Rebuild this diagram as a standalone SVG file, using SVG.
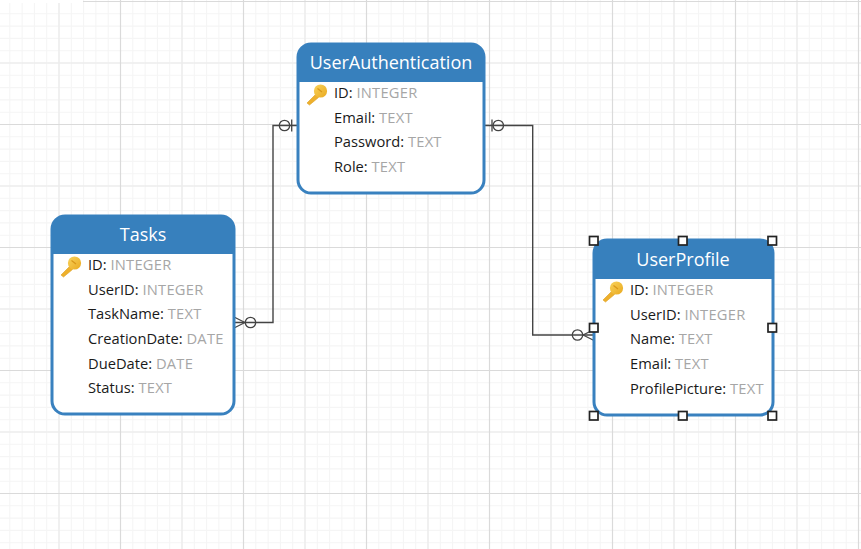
<svg xmlns="http://www.w3.org/2000/svg" width="861" height="549" viewBox="0 0 861 549">
<style>
.box{fill:#fff;stroke:#3981bf;stroke-width:3}
.hdr{fill:#3780bd}
.title{font-family:"Open Sans","Noto Sans",sans-serif;font-size:18px;fill:#fff}
.row{font-family:"Open Sans","Noto Sans",sans-serif;font-size:14.7px;fill:#1a1a1a}
.row tspan{fill:#a6a6a6;letter-spacing:.25px}
.conn{fill:none;stroke:#444;stroke-width:1.4}
.sym{fill:none;stroke:#444;stroke-width:1.3}
.h{fill:#fff;stroke:#222;stroke-width:1.7}
</style>
<defs>
<pattern id="grid" patternUnits="userSpaceOnUse" x="0" y="0" width="123" height="123">
<path stroke="#f5f5f5" stroke-width="1.1" fill="none" d="M9.8 0V123M22.1 0V123M34.4 0V123M46.7 0V123M71.3 0V123M83.6 0V123M95.9 0V123M108.2 0V123M0 13.8H123M0 26.1H123M0 38.4H123M0 50.7H123M0 75.3H123M0 87.6H123M0 99.9H123M0 112.2H123"/>
<path stroke="#ededed" stroke-width="1.6" fill="none" d="M59 0V123M0 63H123"/>
<path stroke="#dadada" stroke-width="1.2" fill="none" d="M120.5 0V123M0 1.5H123"/>
</pattern>
<linearGradient id="keyg" x1="0" y1="0" x2="1" y2="1"><stop offset="0" stop-color="#f9d35c"/><stop offset="1" stop-color="#e9a91f"/></linearGradient>
<g id="key">
<path d="M-10 9L-1.5 0.5L1.5 3.5L-7.5 11Z" fill="#eeb02c" stroke="#dba022" stroke-width="0.6"/>
<circle cx="3.5" cy="-3" r="6.6" fill="url(#keyg)"/>
<path d="M0.5 -5.5L5 -2" stroke="#d9981a" stroke-width="1.3" fill="none"/>
</g>
</defs>
<rect width="861" height="549" fill="#fff"/>
<rect width="861" height="549" fill="url(#grid)"/>
<rect x="0" y="0" width="83" height="3" fill="#fff"/>
<g id="connectors">
<path class="conn" d="M234 322.5H273V125.5H298"/>
<path class="sym" d="M245 322.5L234 317M245 322.5L234 328"/>
<circle class="sym" cx="250.5" cy="322.5" r="5.2"/>
<circle class="sym" cx="284.5" cy="125.5" r="5.2"/>
<path class="sym" d="M291.7 119.5V131.5"/>
<path class="conn" d="M484 125.5H532.7V335H594"/>
<path class="sym" d="M492 119.5V131.5"/>
<circle class="sym" cx="498.3" cy="125.5" r="5.2"/>
<circle class="sym" cx="577.5" cy="335" r="5.2"/>
<path class="sym" d="M583 335L594 329.5M583 335L594 340.5"/>
</g>
<g id="UserAuthentication">
<rect class="box" x="298" y="44" width="186" height="149" rx="13"/>
<path class="hdr" d="M298.5 82V57A13 13 0 0 1 311.5 43.5H470.5A13 13 0 0 1 483.5 57V82Z"/>
<text class="title" x="391" y="69" text-anchor="middle">UserAuthentication</text>
<use href="#key" x="317" y="94"/>
<text class="row" x="334" y="98">ID: <tspan>INTEGER</tspan></text>
<text class="row" x="334" y="123">Email: <tspan>TEXT</tspan></text>
<text class="row" x="334" y="147">Password: <tspan>TEXT</tspan></text>
<text class="row" x="334" y="172">Role: <tspan>TEXT</tspan></text>
</g>
<g id="Tasks">
<rect class="box" x="52" y="216" width="182" height="198" rx="13"/>
<path class="hdr" d="M52 254V229A13 13 0 0 1 65 215.5H221A13 13 0 0 1 234.5 229V254Z"/>
<text class="title" x="143" y="241" text-anchor="middle">Tasks</text>
<use href="#key" x="71" y="266"/>
<text class="row" x="88" y="270">ID: <tspan>INTEGER</tspan></text>
<text class="row" x="88" y="295">UserID: <tspan>INTEGER</tspan></text>
<text class="row" x="88" y="319">TaskName: <tspan>TEXT</tspan></text>
<text class="row" x="88" y="344">CreationDate: <tspan>DATE</tspan></text>
<text class="row" x="88" y="369">DueDate: <tspan>DATE</tspan></text>
<text class="row" x="88" y="393">Status: <tspan>TEXT</tspan></text>
</g>
<g id="UserProfile">
<rect class="box" x="594" y="240" width="179" height="175" rx="13"/>
<path class="hdr" d="M594 279V253A13 13 0 0 1 607 240H760A13 13 0 0 1 773.5 253V279Z"/>
<text class="title" x="683" y="266" text-anchor="middle">UserProfile</text>
<use href="#key" x="613" y="291"/>
<text class="row" x="630" y="295">ID: <tspan>INTEGER</tspan></text>
<text class="row" x="630" y="320">UserID: <tspan>INTEGER</tspan></text>
<text class="row" x="630" y="344">Name: <tspan>TEXT</tspan></text>
<text class="row" x="630" y="369">Email: <tspan>TEXT</tspan></text>
<text class="row" x="630" y="394">ProfilePicture: <tspan>TEXT</tspan></text>
<g>
<rect class="h" x="589.5" y="236.5" width="8.5" height="8.5"/>
<rect class="h" x="678.5" y="236.5" width="8.5" height="8.5"/>
<rect class="h" x="768" y="236.5" width="8.5" height="8.5"/>
<rect class="h" x="589.5" y="323.5" width="8.5" height="8.5"/>
<rect class="h" x="768" y="323.5" width="8.5" height="8.5"/>
<rect class="h" x="589.5" y="411.5" width="8.5" height="8.5"/>
<rect class="h" x="678.5" y="411.5" width="8.5" height="8.5"/>
<rect class="h" x="768" y="411.5" width="8.5" height="8.5"/>
</g>
</g>
</svg>
